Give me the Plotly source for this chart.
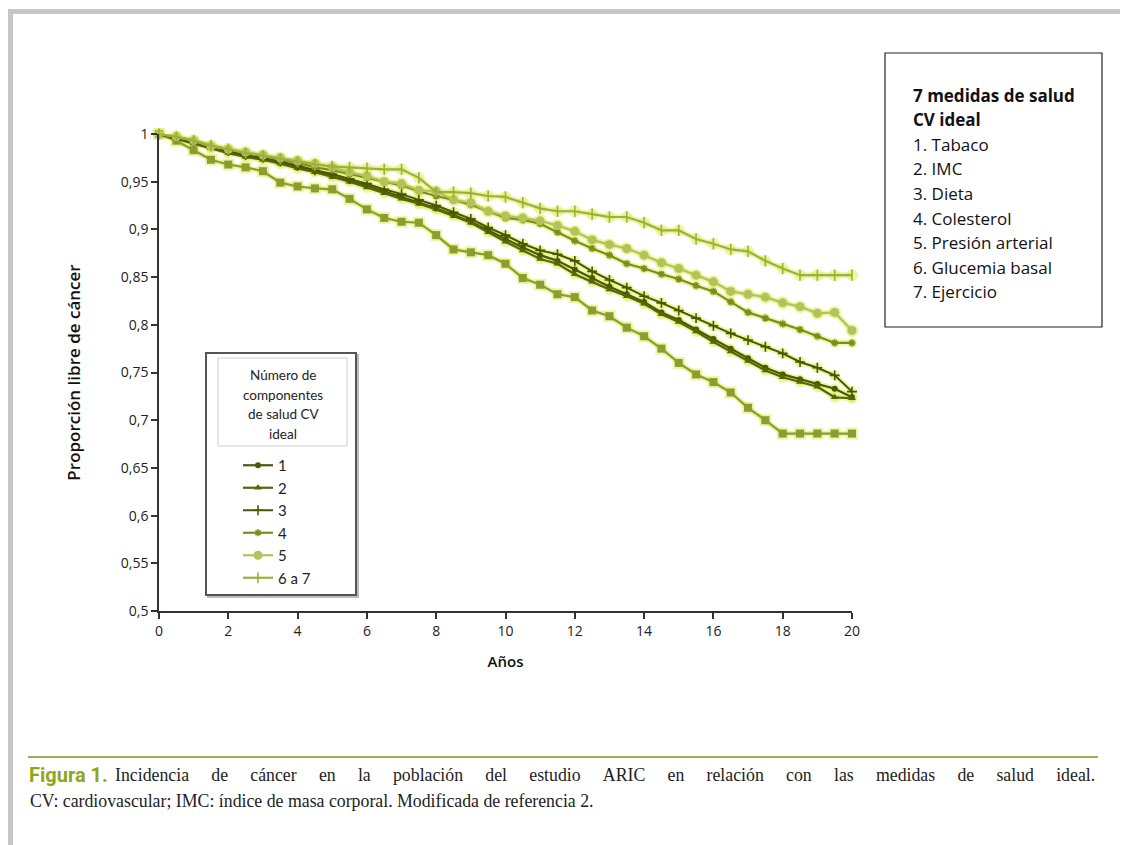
import plotly.graph_objects as go

# ---------------- data ----------------
years = [0, 0.5, 1, 1.5, 2, 2.5, 3, 3.5, 4, 4.5, 5, 5.5, 6, 6.5, 7, 7.5, 8, 8.5, 9, 9.5,
         10, 10.5, 11, 11.5, 12, 12.5, 13, 13.5, 14, 14.5, 15, 15.5, 16, 16.5, 17, 17.5,
         18, 18.5, 19, 19.5, 20]

comp_0 = [1.000, 0.993, 0.983, 0.973, 0.968, 0.965, 0.961, 0.949, 0.945, 0.943, 0.942,
          0.932, 0.921, 0.912, 0.908, 0.907, 0.894, 0.879, 0.876, 0.873, 0.864, 0.849,
          0.842, 0.832, 0.829, 0.815, 0.809, 0.797, 0.788, 0.775, 0.760, 0.748, 0.740,
          0.729, 0.713, 0.700, 0.686, 0.686, 0.686, 0.686, 0.686]
comp_1 = [1.000, 0.996, 0.991, 0.986, 0.981, 0.977, 0.974, 0.970, 0.965, 0.961, 0.956,
          0.951, 0.946, 0.940, 0.934, 0.928, 0.922, 0.915, 0.908, 0.899, 0.890, 0.881,
          0.873, 0.867, 0.858, 0.849, 0.840, 0.832, 0.824, 0.813, 0.805, 0.795, 0.785,
          0.775, 0.765, 0.755, 0.748, 0.743, 0.738, 0.733, 0.724]
comp_2 = [1.000, 0.995, 0.990, 0.985, 0.980, 0.976, 0.973, 0.969, 0.964, 0.960, 0.955,
          0.950, 0.944, 0.938, 0.932, 0.927, 0.921, 0.914, 0.907, 0.897, 0.887, 0.878,
          0.869, 0.864, 0.853, 0.845, 0.837, 0.830, 0.822, 0.811, 0.803, 0.793, 0.782,
          0.772, 0.762, 0.752, 0.745, 0.740, 0.735, 0.724, 0.723]
comp_3 = [1.000, 0.996, 0.992, 0.987, 0.982, 0.978, 0.975, 0.971, 0.967, 0.962, 0.958,
          0.953, 0.948, 0.942, 0.937, 0.931, 0.925, 0.918, 0.911, 0.902, 0.894, 0.885,
          0.878, 0.874, 0.867, 0.856, 0.847, 0.839, 0.830, 0.823, 0.815, 0.807, 0.799,
          0.791, 0.784, 0.777, 0.770, 0.761, 0.755, 0.747, 0.730]
comp_4 = [1.000, 0.997, 0.993, 0.988, 0.984, 0.980, 0.977, 0.973, 0.970, 0.965, 0.962,
          0.958, 0.954, 0.950, 0.946, 0.940, 0.935, 0.931, 0.926, 0.919, 0.912, 0.910,
          0.906, 0.897, 0.888, 0.880, 0.873, 0.864, 0.859, 0.853, 0.848, 0.841, 0.835,
          0.824, 0.813, 0.807, 0.801, 0.795, 0.788, 0.781, 0.781]
comp_5 = [1.000, 0.997, 0.993, 0.987, 0.984, 0.981, 0.978, 0.975, 0.972, 0.969, 0.965,
          0.960, 0.956, 0.950, 0.948, 0.941, 0.940, 0.931, 0.928, 0.919, 0.914, 0.912,
          0.909, 0.904, 0.898, 0.889, 0.884, 0.880, 0.873, 0.865, 0.859, 0.852, 0.845,
          0.835, 0.832, 0.829, 0.823, 0.819, 0.812, 0.813, 0.794]
comp_6_7 = [1.000, 0.997, 0.993, 0.988, 0.984, 0.980, 0.977, 0.974, 0.971, 0.968, 0.966,
            0.965, 0.964, 0.963, 0.963, 0.954, 0.939, 0.939, 0.938, 0.935, 0.934, 0.928,
            0.922, 0.919, 0.919, 0.916, 0.913, 0.913, 0.907, 0.899, 0.899, 0.890, 0.885,
            0.879, 0.877, 0.867, 0.859, 0.852, 0.852, 0.852, 0.852]

series_names = ["0", "1", "2", "3", "4", "5", "6 a 7"]
series_values = [comp_0, comp_1, comp_2, comp_3, comp_4, comp_5, comp_6_7]

y_tick_values = [0.5, 0.55, 0.6, 0.65, 0.7, 0.75, 0.8, 0.85, 0.9, 0.95, 1.0]
y_tick_labels = ["0,5", "0,55", "0,6", "0,65", "0,7", "0,75", "0,8", "0,85", "0,9", "0,95", "1"]
x_tick_values = [0, 2, 4, 6, 8, 10, 12, 14, 16, 18, 20]

legend_title_lines = ["Número de", "componentes", "de salud CV", "ideal"]
box_title = ["7 medidas de salud", "CV ideal"]
box_items = ["1. Tabaco", "2. IMC", "3. Dieta", "4. Colesterol", "5. Presión arterial",
             "6. Glucemia basal", "7. Ejercicio"]
caption_label = "Figura 1."
caption_line1 = ["Incidencia", "de", "cáncer", "en", "la", "población", "del", "estudio", "ARIC", "en",
                 "relación", "con", "las", "medidas", "de", "salud", "ideal."]
caption_line2 = "CV: cardiovascular; IMC: índice de masa corporal. Modificada de referencia 2."

# ---------------- styles ----------------
styles = {
    "0":     dict(color="#8d9c32", symbol="square", size=8, width=2.2, legend=False),
    "1":     dict(color="#4c5a06", symbol="circle", size=6, width=2.2, legend=True),
    "2":     dict(color="#56660c", symbol="triangle-up", size=7, width=2.2, legend=True),
    "3":     dict(color="#4a5604", symbol="cross-thin", size=7, width=2.0, legend=True),
    "4":     dict(color="#7c8c1e", symbol="asterisk", size=6, width=2.2, legend=True),
    "5":     dict(color="#b4c25c", symbol="circle", size=9, width=2.2, legend=True),
    "6 a 7": dict(color="#9fae40", symbol="line-ns", size=8, width=2.2, legend=True),
}
GLOW = "rgba(222,238,95,0.55)"

# The page body has an 8px margin: reference pixel coords are shifted by OFF.
OFF = 8
FIG_W, FIG_H = 1128 - OFF, 845 - OFF
L, T, W, H = 159 - OFF, 134 - OFF, 693, 477


def px(x):
    return (x - OFF - L) / W


def py(y):
    return (T + H - (y - OFF)) / H


fig = go.Figure()

# glow underlay
for name, vals in zip(series_names, series_values):
    st = styles[name]
    fig.add_trace(go.Scatter(
        x=years, y=vals, mode="lines+markers", showlegend=False, hoverinfo="skip",
        line=dict(color=GLOW, width=st["width"] + 3.5),
        marker=dict(color=GLOW, size=st["size"] + 4, symbol="square" if name == "0" else "circle"),
        cliponaxis=False,
    ))

for name, vals in zip(series_names, series_values):
    st = styles[name]
    open_sym = st["symbol"] in ("cross-thin", "asterisk", "line-ns")
    fig.add_trace(go.Scatter(
        x=years, y=vals, mode="lines+markers", name=name, showlegend=st["legend"],
        line=dict(color=st["color"], width=st["width"]),
        marker=dict(color=st["color"], size=st["size"], symbol=st["symbol"],
                    line=dict(color=st["color"], width=1.6 if open_sym else 0)),
        cliponaxis=False,
    ))

shapes = []
# outer page frame (grey)
shapes.append(dict(type="rect", xref="paper", yref="paper", x0=px(8), x1=px(13), y0=py(845), y1=py(9),
                   fillcolor="#c6c6c6", line=dict(width=0), layer="below"))
shapes.append(dict(type="rect", xref="paper", yref="paper", x0=px(8), x1=px(1128), y0=py(14), y1=py(9),
                   fillcolor="#c6c6c6", line=dict(width=0), layer="below"))
# legend outer box (with slight shadow)
shapes.append(dict(type="rect", xref="paper", yref="paper", x0=px(208), x1=px(358), y0=py(597), y1=py(355),
                   fillcolor="rgba(0,0,0,0)", line=dict(color="#bdbdbd", width=2), layer="above"))
shapes.append(dict(type="rect", xref="paper", yref="paper", x0=px(206), x1=px(356), y0=py(595), y1=py(353),
                   fillcolor="white", line=dict(color="#555555", width=2), layer="above"))
# legend title box
shapes.append(dict(type="rect", xref="paper", yref="paper", x0=px(218), x1=px(347), y0=py(446), y1=py(358),
                   fillcolor="white", line=dict(color="#cfcfcf", width=1), layer="above"))
# right info box
shapes.append(dict(type="rect", xref="paper", yref="paper", x0=px(885), x1=px(1102), y0=py(327), y1=py(53),
                   fillcolor="white", line=dict(color="#222222", width=1.2)))
# caption rule
shapes.append(dict(type="line", xref="paper", yref="paper", x0=px(28), x1=px(1098), y0=py(757), y1=py(757),
                   line=dict(color="#a3ad55", width=2)))

annotations = []
# legend title
for i, line in enumerate(legend_title_lines):
    annotations.append(dict(xref="paper", yref="paper", x=px(283), y=py(375 + i * 19.5),
                            text=line, showarrow=False, xanchor="center", yanchor="middle",
                            font=dict(family="Lato, Open Sans, sans-serif", size=13.5, color="#222222")))
# right box text
for i, line in enumerate(box_title + box_items):
    bold = i < len(box_title)
    annotations.append(dict(xref="paper", yref="paper", x=px(911), y=py(95 + i * 24.6),
                            text=line, showarrow=False, xanchor="left", yanchor="middle",
                            font=dict(family="Open Sans, sans-serif", size=17, color="#111111",
                                      weight=700 if bold else 400)))
# caption
annotations.append(dict(xref="paper", yref="paper", x=px(27), y=py(775), xanchor="left", yanchor="middle",
                        text=caption_label, showarrow=False,
                        font=dict(family="Roboto, Open Sans, sans-serif", size=20, color="#8fa51c", weight=700)))
annotations.append(dict(xref="paper", yref="paper", x=px(113), y=py(775), xanchor="left", yanchor="middle",
                        text="&nbsp;&nbsp;&nbsp;&nbsp;&nbsp;".join(caption_line1), showarrow=False,
                        font=dict(family="Liberation Serif, serif", size=17.8, color="#222222")))
annotations.append(dict(xref="paper", yref="paper", x=px(28), y=py(801), xanchor="left", yanchor="middle",
                        text=caption_line2, showarrow=False,
                        font=dict(family="Liberation Serif, serif", size=17.8, color="#222222")))

fig.update_layout(
    width=FIG_W, height=FIG_H,
    margin=dict(l=L, r=FIG_W - L - W, t=T, b=FIG_H - T - H, pad=0),
    paper_bgcolor="white", plot_bgcolor="white",
    font=dict(family="Open Sans, sans-serif", size=14, color="#222222"),
    shapes=shapes, annotations=annotations,
    showlegend=True,
    legend=dict(x=px(238), y=py(449), xanchor="left", yanchor="top",
                bgcolor="rgba(0,0,0,0)", borderwidth=0, itemwidth=30,
                font=dict(family="Lato, Open Sans, sans-serif", size=15, color="#222222"),
                tracegroupgap=0, traceorder="normal"),
    xaxis=dict(range=[0, 20], tickvals=x_tick_values, ticks="outside", ticklen=6, tickwidth=1.5,
               tickcolor="#333333", showline=True, linecolor="#333333", linewidth=1.5,
               showgrid=False, zeroline=False,
               tickfont=dict(size=14, color="#222222"),
               title=dict(text="Años", standoff=18, font=dict(size=15, color="#111111", weight=600))),
    yaxis=dict(range=[0.5, 1.0], tickvals=y_tick_values, ticktext=y_tick_labels, ticks="outside",
               ticklen=6, tickwidth=1.5, tickcolor="#333333", showline=True, linecolor="#333333",
               linewidth=1.5, showgrid=False, zeroline=False,
               tickfont=dict(size=14, color="#222222"),
               title=dict(text="Proporción libre de cáncer", standoff=36,
                          font=dict(size=17, color="#111111", weight=600))),
)

fig.write_html("out.html")
